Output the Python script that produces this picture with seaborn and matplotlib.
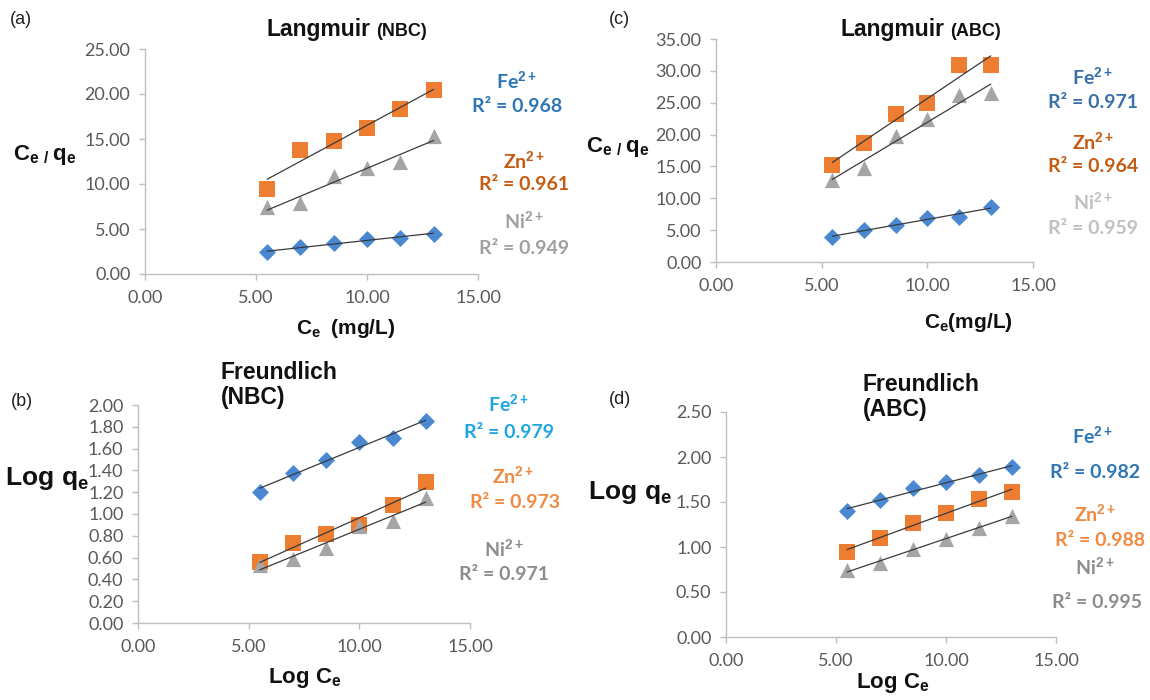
import numpy as np
import matplotlib
matplotlib.use("Agg")
import matplotlib.pyplot as plt
import seaborn as sns

# ---------------- data ----------------
ce = [5.5, 7.0, 8.5, 10.0, 11.5, 13.0]

# (a) Langmuir NBC
a_fe = [2.4, 3.0, 3.4, 3.9, 4.0, 4.5]
a_zn = [9.5, 13.8, 14.8, 16.2, 18.3, 20.5]
a_ni = [7.4, 7.9, 10.9, 11.8, 12.5, 15.3]
# (c) Langmuir ABC
c_fe = [4.0, 5.0, 5.8, 6.9, 7.1, 8.7]
c_zn = [15.2, 18.6, 23.3, 25.0, 30.9, 30.9]
c_ni = [12.9, 14.8, 19.8, 22.4, 26.2, 26.5]
# (b) Freundlich NBC
b_fe = [1.20, 1.38, 1.50, 1.66, 1.70, 1.85]
b_zn = [0.56, 0.73, 0.82, 0.90, 1.08, 1.29]
b_ni = [0.53, 0.59, 0.69, 0.89, 0.94, 1.15]
# (d) Freundlich ABC
d_fe = [1.40, 1.52, 1.66, 1.72, 1.80, 1.89]
d_zn = [0.95, 1.10, 1.27, 1.38, 1.53, 1.61]
d_ni = [0.74, 0.82, 0.98, 1.09, 1.21, 1.35]

ions = ["Fe$^{2+}$", "Zn$^{2+}$", "Ni$^{2+}$"]
r2_a = ["0.968", "0.961", "0.949"]
r2_c = ["0.971", "0.964", "0.959"]
r2_b = ["0.979", "0.973", "0.971"]
r2_d = ["0.982", "0.988", "0.995"]

x_ticks = [0, 5, 10, 15]
a_yticks = [0, 5, 10, 15, 20, 25]
c_yticks = [0, 5, 10, 15, 20, 25, 30, 35]
b_yticks = [0, 0.2, 0.4, 0.6, 0.8, 1.0, 1.2, 1.4, 1.6, 1.8, 2.0]
d_yticks = [0, 0.5, 1.0, 1.5, 2.0, 2.5]

# ---------------- style ----------------
sns.set_theme(style="white")
plt.rcParams["font.family"] = ["Lato", "DejaVu Sans"]
plt.rcParams["mathtext.fontset"] = "custom"
plt.rcParams["mathtext.rm"] = "Liberation Sans:bold"
plt.rcParams["mathtext.it"] = "Liberation Sans:bold"
plt.rcParams["mathtext.bf"] = "Liberation Sans:bold"

FE_C, ZN_C, NI_C = "#4A89D2", "#ED7D31", "#A5A5A5"
SPINE = "#BFBFBF"
TICKC = "#595959"

W, H = 1150, 700
fig = plt.figure(figsize=(W / 100, H / 100), dpi=100)


def box(l, r, t, b):
    return [l / W, 1 - b / H, (r - l) / W, (b - t) / H]


def fx(px):
    return px / W


def fy(py):
    return 1 - py / H


def panel(rect, fe, zn, ni, yticks, ylim):
    ax = fig.add_axes(rect)
    for ys, col, mk, s in [(fe, FE_C, "D", 75), (zn, ZN_C, "s", 135), (ni, NI_C, "^", 120)]:
        sns.scatterplot(x=ce, y=ys, color=col, marker=mk, s=s, linewidth=0, ax=ax, zorder=2)
        sns.regplot(x=ce, y=ys, scatter=False, ci=None, ax=ax,
                    line_kws=dict(color="#3A3A3A", lw=0.9, zorder=3))
    ax.set_xlim(0, 15)
    ax.set_ylim(*ylim)
    ax.set_xticks(x_ticks)
    ax.set_yticks(yticks)
    ax.set_xticklabels([f"{v:.2f}" for v in x_ticks])
    ax.set_yticklabels([f"{v:.2f}" for v in yticks])
    for sp in ["top", "right"]:
        ax.spines[sp].set_visible(False)
    for sp in ["left", "bottom"]:
        ax.spines[sp].set_color(SPINE)
        ax.spines[sp].set_linewidth(1.0)
    ax.tick_params(axis="both", direction="out", length=4.5, width=1.0, color=SPINE,
                   labelcolor=TICKC, labelsize=13)
    ax.tick_params(axis="y", pad=6, left=True)
    ax.tick_params(axis="x", pad=7, bottom=True)
    ax.set_xlabel("")
    ax.set_ylabel("")
    ax.grid(False)
    return ax


ax_a = panel(box(145, 478, 49, 274), a_fe, a_zn, a_ni, a_yticks, (0, 25))
ax_c = panel(box(716, 1033, 39, 262), c_fe, c_zn, c_ni, c_yticks, (0, 35))
ax_b = panel(box(138, 470, 405, 623), b_fe, b_zn, b_ni, b_yticks, (0, 2.0))
ax_d = panel(box(726, 1056, 412, 637), d_fe, d_zn, d_ni, d_yticks, (0, 2.5))

ARIAL = ["Liberation Sans", "DejaVu Sans"]

# panel letters
for lab, x, y in [("(a)", 10, 20), ("(c)", 609, 20), ("(b)", 11, 402), ("(d)", 609, 400)]:
    fig.text(fx(x), fy(y), lab, family=ARIAL, fontsize=13, color="#222222", ha="left", va="center")

renderer = fig.canvas.get_renderer()


def title_two(x_left, y_base, main, sub):
    t = fig.text(fx(x_left), fy(y_base), main, family=ARIAL, fontweight="bold",
                 fontsize=16.5, color="#111111", ha="left", va="baseline")
    bb = t.get_window_extent(renderer=renderer)
    fig.text(fx(bb.x1 + 5), fy(y_base), sub, family=ARIAL, fontweight="bold",
             fontsize=13, color="#111111", ha="left", va="baseline")


title_two(267, 36, "Langmuir", "(NBC)")
title_two(841, 36, "Langmuir", "(ABC)")
fig.text(fx(221), fy(385), "Freundlich\n(NBC)", family=ARIAL, fontweight="bold", fontsize=16.5,
         color="#111111", ha="left", va="center", linespacing=1.15)
fig.text(fx(863), fy(397), "Freundlich\n(ABC)", family=ARIAL, fontweight="bold", fontsize=16.5,
         color="#111111", ha="left", va="center", linespacing=1.15)

# axis labels
fig.text(fx(45), fy(155), r"$\mathbf{C_e}$$_{\mathbf{\ /\ }}$$\mathbf{q_e}$", fontsize=16,
         color="#111111", ha="center", va="center")
fig.text(fx(618), fy(147), r"$\mathbf{C_e}$$_{\mathbf{\ /\ }}$$\mathbf{q_e}$", fontsize=16,
         color="#111111", ha="center", va="center")
fig.text(fx(346), fy(328), r"$\mathbf{C_e}$  $\mathbf{(mg/L)}$", fontsize=15,
         color="#111111", ha="center", va="center")
fig.text(fx(968), fy(323), r"$\mathbf{C_e(mg/L)}$", fontsize=15,
         color="#111111", ha="center", va="center")
fig.text(fx(305), fy(678), r"$\mathbf{Log\ C_e}$", fontsize=16,
         color="#111111", ha="center", va="center")
fig.text(fx(893), fy(683), r"$\mathbf{Log\ C_e}$", fontsize=16,
         color="#111111", ha="center", va="center")
fig.text(fx(47), fy(478), r"$\mathbf{Log\ q_e}$", fontsize=19,
         color="#111111", ha="center", va="center")
fig.text(fx(630), fy(492), r"$\mathbf{Log\ q_e}$", fontsize=19,
         color="#111111", ha="center", va="center")


# R² annotations
def annot(items):
    for txt, x, y, col in items:
        fig.text(fx(x), fy(y), txt, family=["Lato", "DejaVu Sans"], fontweight="bold",
                 fontsize=14, color=col, ha="center", va="center")


annot([
    (ions[0], 517, 80, "#2E75B6"), ("R² = " + r2_a[0], 517, 106, "#2E75B6"),
    (ions[1], 524, 160, "#C55A11"), ("R² = " + r2_a[1], 524, 185, "#C55A11"),
    (ions[2], 524, 220, "#A0A0A0"), ("R² = " + r2_a[2], 524, 248, "#A0A0A0"),
    (ions[0], 1093, 76, "#3A70A8"), ("R² = " + r2_c[0], 1093, 102, "#3A70A8"),
    (ions[1], 1093, 141, "#C55A11"), ("R² = " + r2_c[1], 1093, 167, "#C55A11"),
    (ions[2], 1093, 201, "#C0C0C0"), ("R² = " + r2_c[2], 1093, 228, "#C0C0C0"),
    (ions[0], 509, 403, "#1EA6E0"), ("R² = " + r2_b[0], 509, 433, "#1EA6E0"),
    (ions[1], 513, 475, "#F08A42"), ("R² = " + r2_b[1], 515, 503, "#F08A42"),
    (ions[2], 504, 548, "#8C8C8C"), ("R² = " + r2_b[2], 504, 575, "#8C8C8C"),
    (ions[0], 1093, 435, "#2E75B6"), ("R² = " + r2_d[0], 1095, 472, "#2E75B6"),
    (ions[1], 1095, 513, "#F08A42"), ("R² = " + r2_d[1], 1100, 540, "#F08A42"),
    (ions[2], 1095, 566, "#8C8C8C"), ("R² = " + r2_d[2], 1097, 603, "#8C8C8C"),
])

fig.savefig("out.png", dpi=100, facecolor="white")
